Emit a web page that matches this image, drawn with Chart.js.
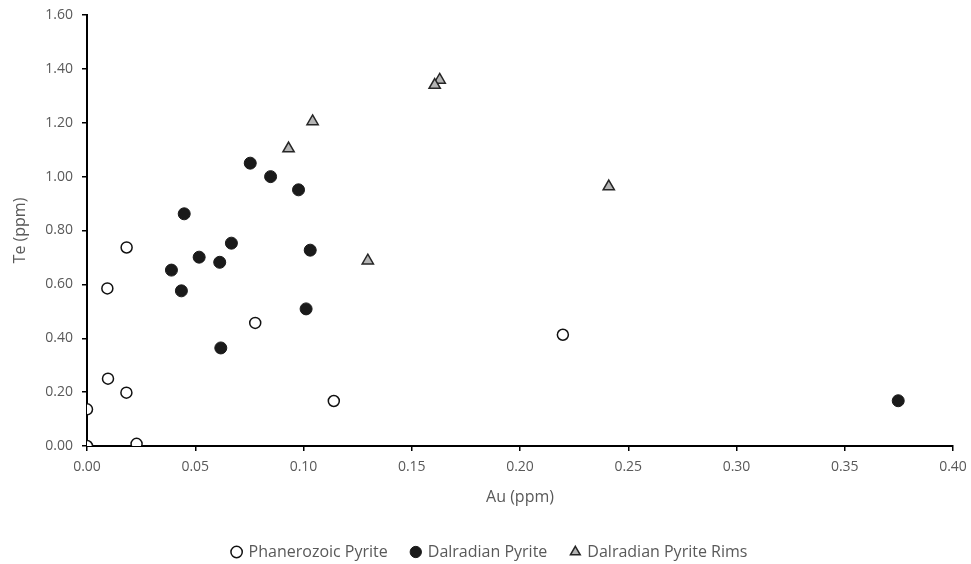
<!DOCTYPE html>
<html>
<head>
<meta charset="utf-8">
<script src="https://cdn.jsdelivr.net/npm/chart.js@4/dist/chart.umd.min.js"></script>
<style>
html,body{margin:0;padding:0;background:#fff;}
#wrap{width:971px;height:564px;position:relative;}
</style>
</head>
<body>
<div id="wrap"><canvas id="c" width="971" height="564"></canvas></div>
<script>
// Series data (Au ppm, Te ppm)
const phanerozoicAu = [0.000, 0.000, 0.0094, 0.0097, 0.0183, 0.0182, 0.0229, 0.0777, 0.1140, 0.2198];
const phanerozoicTe = [0.000, 0.136, 0.585, 0.250, 0.737, 0.198, 0.008, 0.457, 0.167, 0.413];

const dalradianAu = [0.0449, 0.0390, 0.0436, 0.0518, 0.0613, 0.0618, 0.0667, 0.0754, 0.0848, 0.0977, 0.1031, 0.1012, 0.3747];
const dalradianTe = [0.862, 0.653, 0.576, 0.701, 0.682, 0.364, 0.753, 1.050, 1.000, 0.951, 0.727, 0.509, 0.168];

const rimsAu = [0.1042, 0.0931, 0.1629, 0.1606, 0.2410, 0.1297];
const rimsTe = [1.205, 1.104, 1.359, 1.340, 0.963, 0.688];

const seriesNames = ["Phanerozoic Pyrite", "Dalradian Pyrite", "Dalradian Pyrite Rims"];
const xTitle = "Au (ppm)";
const yTitle = "Te (ppm)";

const toPts = (xs, ys) => xs.map((x, i) => ({x: x, y: ys[i]}));

const FONT = "'Open Sans', sans-serif";
const GREY = "#595959";

new Chart(document.getElementById('c'), {
  type: 'scatter',
  data: {
    datasets: [
      {label: seriesNames[0], data: toPts(phanerozoicAu, phanerozoicTe), pointStyle: 'circle',
       pointRadius: 5.5, pointHoverRadius: 5.5, borderWidth: 1.5, borderColor: '#111', backgroundColor: '#fff'},
      {label: seriesNames[1], data: toPts(dalradianAu, dalradianTe), pointStyle: 'circle',
       pointRadius: 6, pointHoverRadius: 6, borderWidth: 1, borderColor: '#1a1a1a', backgroundColor: '#1a1a1a'},
      {label: seriesNames[2], data: toPts(rimsAu, rimsTe), pointStyle: 'triangle',
       pointRadius: 6.5, pointHoverRadius: 6.5, borderWidth: 1.5, borderColor: '#262626', backgroundColor: '#b4b4b4'}
    ]
  },
  options: {
    responsive: false,
    animation: false,
    layout: {padding: {left: 27, right: 18, top: 15, bottom: -6}},
    plugins: {
      tooltip: {enabled: false},
      legend: {
        position: 'bottom',
        labels: {
          usePointStyle: true,
          boxWidth: 8, boxHeight: 8,
          padding: 24,
          color: GREY,
          font: {family: FONT, size: 16}
        }
      }
    },
    scales: {
      x: {
        type: 'linear', min: 0, max: 0.4,
        afterFit: s => { s.height = 74; s.paddingLeft = 0; s.paddingRight = 0; },
        ticks: {stepSize: 0.05, color: GREY, font: {family: FONT, size: 14}, padding: 8,
                callback: v => v.toFixed(2)},
        grid: {display: true, drawOnChartArea: false, drawTicks: true, tickLength: 5, color: '#000', lineWidth: 1.5},
        border: {display: true, color: '#000', width: 2},
        title: {display: true, text: xTitle, color: GREY, font: {family: FONT, size: 16}, padding: {top: 0, bottom: 13}}
      },
      y: {
        type: 'linear', min: 0, max: 1.6,
        afterFit: s => { s.width = 60; s.paddingTop = 0; s.paddingBottom = 0; },
        ticks: {stepSize: 0.2, color: GREY, font: {family: FONT, size: 14}, padding: 9,
                callback: v => v.toFixed(2)},
        grid: {display: true, drawOnChartArea: false, drawTicks: true, tickLength: 5, color: '#000', lineWidth: 1.5},
        border: {display: true, color: '#000', width: 2},
        title: {display: true, text: yTitle, color: GREY, font: {family: FONT, size: 16}, padding: {top: -16, bottom: 0}}
      }
    }
  }
});
</script>
</body>
</html>
